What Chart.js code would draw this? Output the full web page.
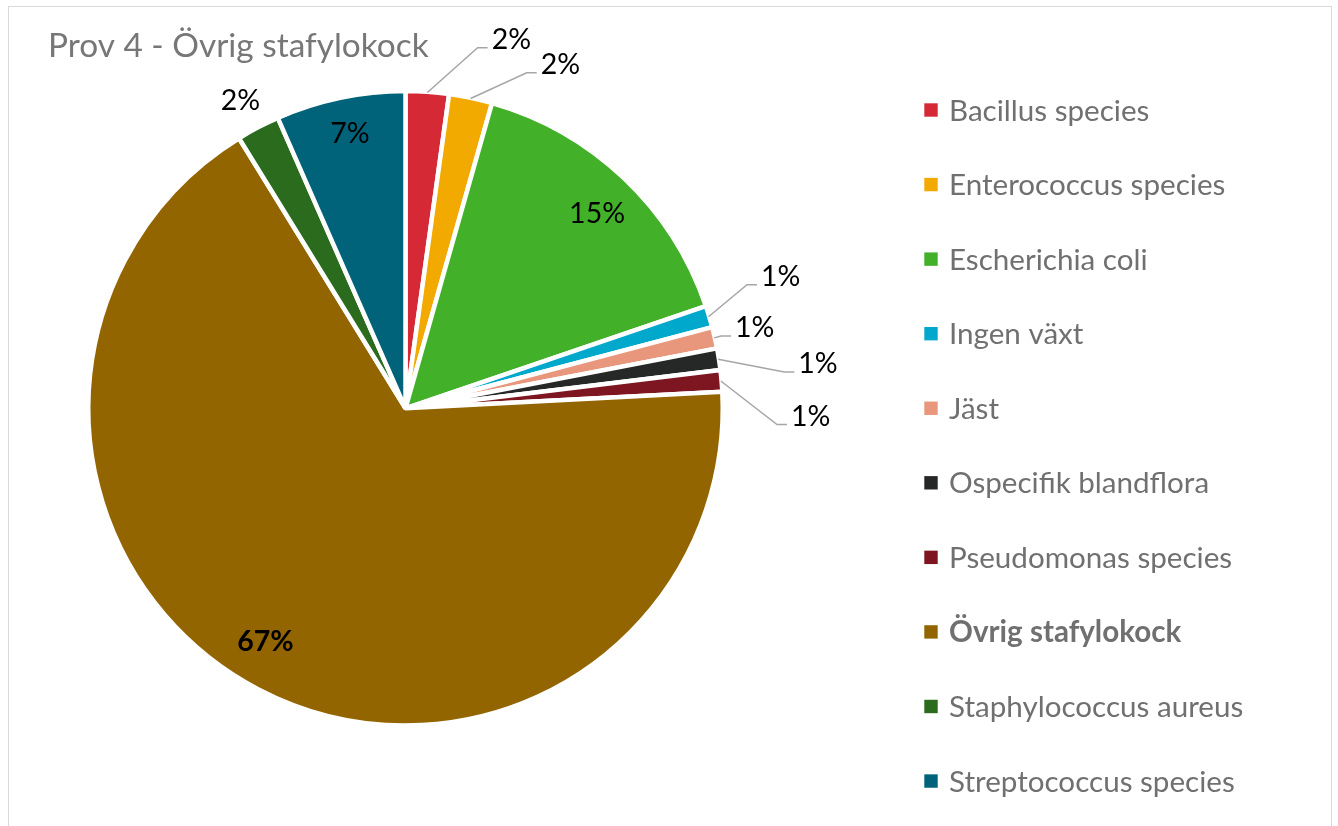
<!DOCTYPE html>
<html><head><meta charset="utf-8">
<script src="https://cdn.jsdelivr.net/npm/chart.js@4.4.0/dist/chart.umd.min.js"></script>
<style>
html,body{margin:0;padding:0;background:#fff;width:1338px;height:826px;overflow:hidden;}
#frame{position:absolute;left:7.5px;top:5.5px;width:1324px;height:900px;border:1.5px solid #d9d9d9;box-sizing:border-box;}
#wrap{position:absolute;left:0;top:0;width:1338px;height:826px;}
</style></head><body>
<div id="frame"></div>
<div id="wrap"><canvas id="c" width="1338" height="826"></canvas></div>
<script>
const titleText = 'Prov 4 - Övrig stafylokock';
const categories = ['Bacillus species','Enterococcus species','Escherichia coli','Ingen växt','Jäst','Ospecifik blandflora','Pseudomonas species','Övrig stafylokock','Staphylococcus aureus','Streptococcus species'];
const counts = [2, 2, 14, 1, 1, 1, 1, 61, 2, 6];
const sliceColors = ['#D52A35','#F2A900','#43B02A','#00A8CC','#E8977D','#262828','#7D1620','#936500','#2A6B1E','#00637A'];
const highlighted = 'Övrig stafylokock';

// label placement (offset of text left/baseline from the slice's outer mid point)
const labelPlacement = [
  {dx: 64.4, dy: -45.3, leader: true},
  {dx: 70.4, dy: -26.2, leader: true},
  {dx: -53.3, dy: 43.3},
  {dx: 54, dy: -31.5, leader: true},
  {dx: 22.4, dy: -1.1, leader: true},
  {dx: 81.6, dy: 13.5, leader: true},
  {dx: 71.7, dy: 44.4, leader: true},
  {dx: -21.8, dy: -36.7},
  {dx: -38.4, dy: -18.9},
  {dx: -10.5, dy: 43}
];

const FONT = 'Lato';
const LABEL_SIZE = 28.5;
const LEGEND_SIZE = 29.6;
const BORDER_W = 4.5;

const total = counts.reduce((a, b) => a + b, 0);

const sliceLabelPlugin = {
  id: 'sliceLabels',
  afterDatasetsDraw(chart) {
    const ctx = chart.ctx;
    const meta = chart.getDatasetMeta(0);
    ctx.save();
    meta.data.forEach((arc, i) => {
      const p = arc.getProps(['x', 'y', 'startAngle', 'endAngle', 'outerRadius'], true);
      const mid = (p.startAngle + p.endAngle) / 2;
      const rVis = p.outerRadius - BORDER_W / 2;
      const px = p.x + Math.cos(mid) * rVis;
      const py = p.y + Math.sin(mid) * rVis;
      const pl = labelPlacement[i];
      const tx = px + pl.dx;
      const ty = py + pl.dy;
      const txt = Math.round(counts[i] / total * 100) + '%';
      const bold = categories[i] === highlighted;
      if (pl.leader) {
        const sx = p.x + Math.cos(mid) * (rVis + 1.5);
        const sy = p.y + Math.sin(mid) * (rVis + 1.5);
        const ly = ty - 1;
        const ex = tx - 4;
        const elx = Math.max(tx - 14, sx);
        ctx.beginPath();
        ctx.strokeStyle = '#a6a6a6';
        ctx.lineWidth = 1.5;
        ctx.moveTo(sx, sy);
        ctx.lineTo(elx, ly);
        ctx.lineTo(ex, ly);
        ctx.stroke();
      }
      ctx.fillStyle = '#000000';
      ctx.font = (bold ? 'bold ' : '') + LABEL_SIZE + 'px ' + FONT;
      ctx.textAlign = 'left';
      ctx.textBaseline = 'alphabetic';
      ctx.fillText(txt, tx, ty);
    });
    ctx.restore();
  }
};

const legendPlugin = {
  id: 'sideLegend',
  afterDraw(chart) {
    const ctx = chart.ctx;
    const ds = chart.data.datasets[0];
    const x0 = 924.3, y0 = 110, step = 74.56, box = 13.4;
    ctx.save();
    chart.data.labels.forEach((lab, i) => {
      const cy = y0 + i * step;
      ctx.fillStyle = ds.backgroundColor[i];
      ctx.fillRect(x0, cy - box / 2, box, box);
      ctx.fillStyle = '#707070';
      ctx.font = (lab === highlighted ? 'bold ' : '') + LEGEND_SIZE + 'px ' + FONT;
      ctx.textAlign = 'left';
      ctx.textBaseline = 'alphabetic';
      ctx.fillText(lab, 949, cy + 10.5);
    });
    ctx.restore();
  }
};

new Chart(document.getElementById('c'), {
  type: 'pie',
  data: {
    labels: categories,
    datasets: [{
      data: counts,
      backgroundColor: sliceColors,
      borderColor: '#ffffff',
      borderWidth: BORDER_W,
      hoverBorderWidth: BORDER_W,
      hoverOffset: 0
    }]
  },
  options: {
    responsive: false,
    animation: false,
    events: [],
    radius: 317.25,
    layout: {padding: {left: 48, right: 575, top: 0, bottom: 76}},
    plugins: {
      legend: {display: false},
      tooltip: {enabled: false},
      title: {
        display: true,
        text: titleText,
        align: 'start',
        color: '#777777',
        font: {family: FONT, size: 33.4, weight: 'normal', lineHeight: 1.2},
        padding: {top: 26.5, bottom: 0}
      }
    }
  },
  plugins: [sliceLabelPlugin, legendPlugin]
});
</script>
</body></html>
